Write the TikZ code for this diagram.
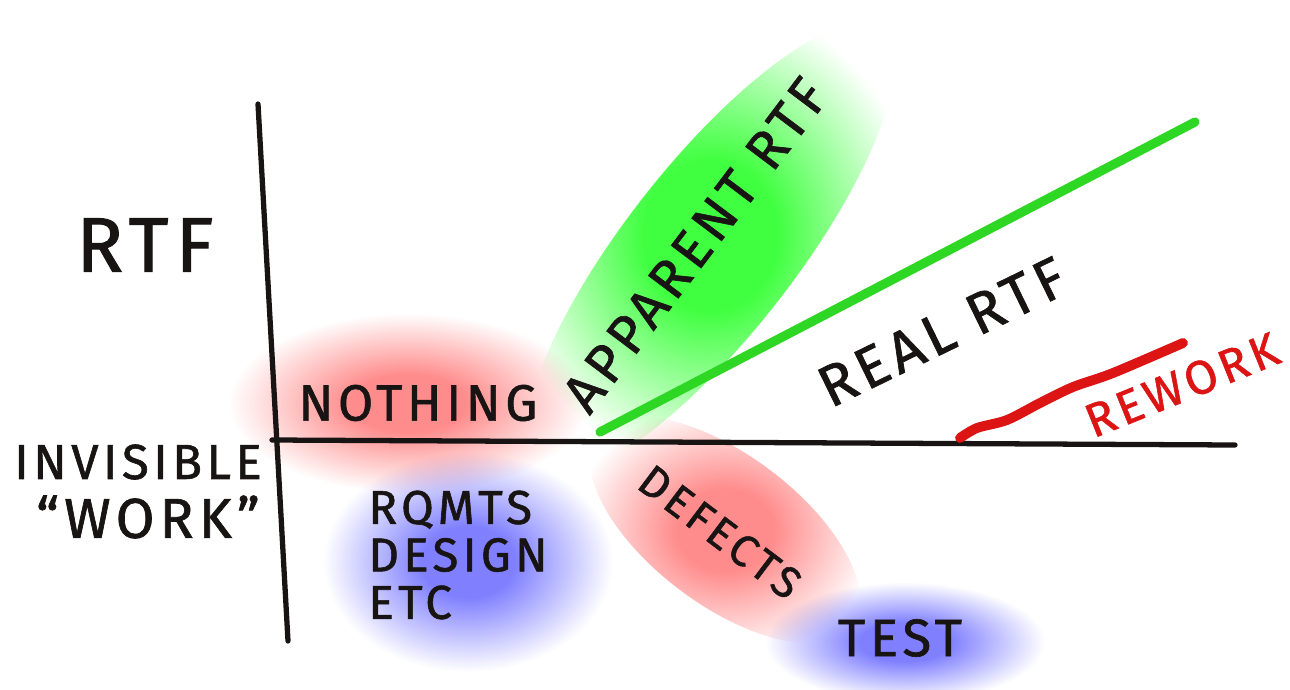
\documentclass[tikz,border=0pt]{standalone}
\usepackage{fontspec}
\newfontfamily\handfont[LetterSpace=9, FakeBold=1.2]{Fira Sans}
\usepackage{tikz}
\usetikzlibrary{positioning, shapes.geometric}
\usepackage{xcolor}
\definecolor{pen}{RGB}{25,20,20}
\definecolor{marker}{RGB}{45,215,35}
\definecolor{redpen}{RGB}{220,20,20}
\colorlet{glowcolor}{white}
\pgfdeclareradialshading[glowcolor]{glow}{\pgfpoint{0cm}{0cm}}{%
  color(0bp)=(glowcolor); color(8bp)=(glowcolor);
  color(25bp)=(white); color(50bp)=(white)}
\tikzset{
  hand/.style={
    font=\handfont\fontsize{#1}{#1}\selectfont,
    text=pen, inner sep=0pt
  },
  glow/.style={
    ellipse, draw=none, inner sep=0pt,
    /utils/exec={\colorlet{glowcolor}{#1}},
    shade, shading=glow, blend mode=multiply
  },
  axis/.style={line width=1.5pt, draw=pen, line cap=round},
  realline/.style={line width=2.6pt, draw=marker, line cap=round},
  reworkline/.style={line width=2.8pt, draw=redpen, line cap=round}
}

\begin{document}
\begin{tikzpicture}
  \useasboundingbox (0,0) rectangle (12.9,6.89);

  % glows behind the words
  \node[glow=red!45, minimum width=3.6cm, minimum height=1.8cm] (nothingglow) at (4.08,2.86) {};
  \node[glow=blue!50, minimum width=2.9cm, minimum height=2.2cm] (rqmtsglow) at (4.68,1.27) {};
  \node[glow=green!75, minimum width=5.6cm, minimum height=1.7cm, rotate=52] (apparentglow) at (7.10,4.39) {};
  \node[glow=red!45, minimum width=3.2cm, minimum height=1.5cm, rotate=-37] (defectsglow) at (7.25,1.59) {};
  \node[glow=blue!50, minimum width=2.8cm, minimum height=1.2cm] (testglow) at (9.05,0.47) {};

  % axes
  \coordinate (ytop) at (2.58,5.85);
  \coordinate (ybot) at (2.88,0.48);
  \coordinate (xleft) at (2.72,2.49);
  \coordinate (xright) at (12.35,2.44);
  \draw[axis] (ytop) -- (ybot);
  \draw[axis] (xleft) -- (xright);

  \coordinate (realstart) at (6.00,2.57);
  \coordinate (realend) at (11.95,5.67);
  \draw[realline] (realstart) -- (realend);

  \draw[reworkline] plot[smooth] coordinates
    {(9.60,2.51) (9.77,2.61) (10.07,2.69) (10.40,2.86) (10.73,3.02) (11.13,3.16) (11.83,3.46)};

  % labels
  \node[hand=22] (rtf) at (1.45,4.44) {RTF};
  \node[hand=14] (invisible) at (1.38,2.27) {INVISIBLE};
  \node[hand=16] (work) at (1.48,1.72) {“WORK”};
  \node[hand=14.5] (nothing) at (4.18,2.86) {NOTHING};
  \node[hand=15.5, rotate=53] (apparent) at (6.95,4.44) {APPARENT RTF};
  \node[hand=16.5, rotate=26] (real) at (9.42,3.57) {REAL RTF};
  \node[hand=13.5, rotate=22, text=redpen] (rework) at (11.82,3.04) {REWORK};
  \node[hand=13.5, align=left] (rqmts) at (4.58,1.34) {RQMTS\\DESIGN\\ETC};
  \node[hand=12.5, rotate=-37] (defects) at (7.20,1.57) {DEFECTS};
  \node[hand=15] (test) at (9.00,0.51) {TEST};
\end{tikzpicture}
\end{document}
